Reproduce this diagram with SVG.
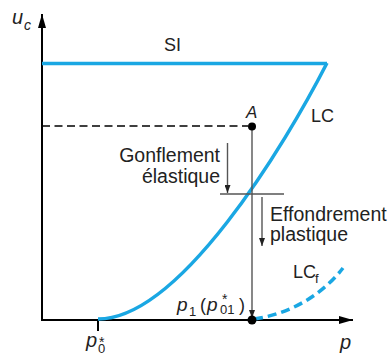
<svg xmlns="http://www.w3.org/2000/svg" width="391" height="356" viewBox="0 0 391 356">
<style>
text{font-family:"Liberation Sans",Arial,sans-serif;fill:#222}
.lab{font-size:19.5px}
.it{font-style:italic}
.axis{stroke:#000;stroke-width:2;fill:none}
.blue{stroke:#1aa7e3;stroke-width:3.5;fill:none}
.gray{stroke:#555;stroke-width:1.4;fill:none}
.star{font-size:14px}
</style>
<defs>
<marker id="ah" markerWidth="14" markerHeight="8" refX="14" refY="4" orient="auto" markerUnits="userSpaceOnUse"><path d="M0,0 L14,4 L0,8 Z" fill="#000"/></marker>
<marker id="sa" markerWidth="8" markerHeight="6" refX="8" refY="3" orient="auto" markerUnits="userSpaceOnUse"><path d="M0,0 L8,3 L0,6 Z" fill="#222"/></marker>
</defs>
<g id="connectors">
<line class="axis" x1="42" y1="321" x2="42" y2="14" marker-end="url(#ah)"/>
<line class="axis" x1="41" y1="320" x2="353" y2="320" marker-end="url(#ah)"/>
<line class="axis" x1="98" y1="320" x2="98" y2="331"/>
<line x1="42" y1="126" x2="248" y2="126" stroke="#000" stroke-width="1.3" stroke-dasharray="8,4.5"/>
<line class="blue" x1="42" y1="63.5" x2="327" y2="63.5"/>
<path id="LC" class="blue" d="M98,319 C180,319 285,145 327,63"/>
<path id="LCf" class="blue" d="M254,319 C290,314 322,295 343,268" stroke-width="3" stroke-dasharray="9,5"/>
<line class="gray" x1="252" y1="126" x2="252" y2="318" marker-end="url(#sa)"/>
<line class="gray" x1="220" y1="194" x2="284" y2="194"/>
<line class="gray" x1="227.5" y1="143" x2="227.5" y2="193" marker-end="url(#sa)"/>
<line class="gray" x1="262" y1="197" x2="262" y2="246" marker-end="url(#sa)"/>
</g>
<g id="pointA"><circle cx="252" cy="126.5" r="4" fill="#000"/><text class="it" x="246" y="118" font-size="17">A</text></g>
<g id="pointP1"><circle cx="252" cy="320" r="4.5" fill="#000"/></g>
<g id="labels">
<text x="12" y="24" class="it" font-size="20">u</text><text x="24" y="30" class="it" font-size="14">c</text>
<text x="164" y="51" font-size="18">SI</text>
<text x="311" y="122" font-size="18">LC</text>
<text class="lab" x="220" y="162" text-anchor="end">Gonflement</text>
<text class="lab" x="220" y="183" text-anchor="end">élastique</text>
<text class="lab" x="270" y="221">Effondrement</text>
<text class="lab" x="270" y="241">plastique</text>
<text x="293" y="278" font-size="18">LC</text><text x="315" y="283" font-size="13">f</text>
<text class="it" x="177" y="311" font-size="19">p</text><text x="189" y="316" font-size="13">1</text>
<text x="200" y="311" font-size="18">(</text><text class="it" x="207" y="311" font-size="19">p</text>
<text class="star" x="222" y="304">*<tspan x="220" y="314" font-size="13">01</tspan></text>
<text x="239" y="311" font-size="18">)</text>
<text class="it" x="86" y="347" font-size="20">p</text><text class="star" x="99" y="347">*<tspan x="98" y="353" font-size="13">0</tspan></text>
<text class="it" x="340" y="349" font-size="20">p</text>
</g>
</svg>
